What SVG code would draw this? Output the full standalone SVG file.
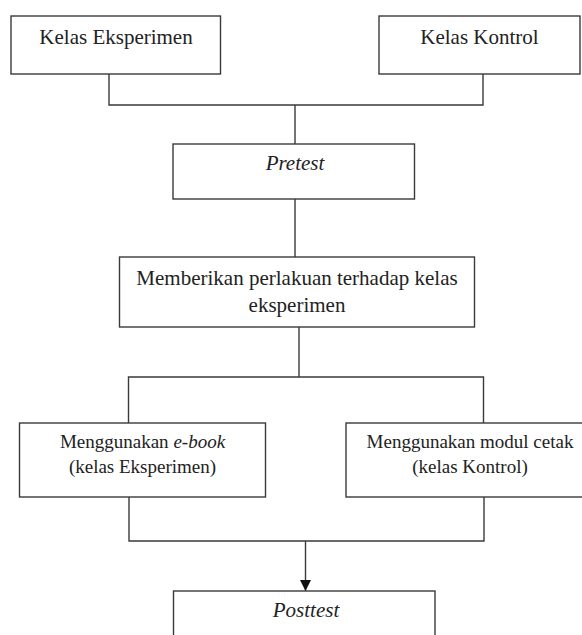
<svg xmlns="http://www.w3.org/2000/svg" width="582" height="635" viewBox="0 0 582 635">
<defs>
<style>
.box{fill:#fff;stroke:#3a3a3a;stroke-width:1.4}
.ln{fill:none;stroke:#3a3a3a;stroke-width:1.4}
.t{font-family:"Liberation Serif","Times New Roman",serif;fill:#222;text-anchor:middle}
.l{font-size:21px}
.s{font-size:19px}
.i{font-style:italic}
</style>
<marker id="arr" viewBox="0 0 10 10" refX="10" refY="5" markerWidth="11" markerHeight="11" markerUnits="userSpaceOnUse" orient="auto">
<path d="M0,0 L10,5 L0,10 z" fill="#111"/>
</marker>
</defs>
<rect width="582" height="635" fill="#fff"/>
<g id="connectors">
<polyline class="ln" points="109,74 109,105 483,105 483,74"/>
<line class="ln" x1="295" y1="105" x2="295" y2="144"/>
<line class="ln" x1="295" y1="199" x2="295" y2="257"/>
<line class="ln" x1="299" y1="327" x2="299" y2="377"/>
<polyline class="ln" points="128.5,423 128.5,377 483.5,377 483.5,423"/>
<polyline class="ln" points="129,497 129,541 484,541 484,497"/>
<line class="ln" x1="305.5" y1="541" x2="305.5" y2="591" stroke="#111" stroke-width="1.8" marker-end="url(#arr)"/>
</g>
<g id="kelas-eksperimen">
<rect class="box" x="11" y="16" width="209.5" height="58"/>
<text class="t l" x="116" y="44">Kelas Eksperimen</text>
</g>
<g id="kelas-kontrol">
<rect class="box" x="379" y="16" width="201" height="58"/>
<text class="t l" x="479.5" y="44">Kelas Kontrol</text>
</g>
<g id="pretest">
<rect class="box" x="173" y="144" width="241.5" height="55"/>
<text class="t l i" x="295" y="170">Pretest</text>
</g>
<g id="perlakuan">
<rect class="box" x="119.5" y="257" width="355" height="70"/>
<text class="t l" x="297" y="285">Memberikan perlakuan terhadap kelas</text>
<text class="t l" x="297" y="312">eksperimen</text>
</g>
<g id="ebook">
<rect class="box" x="19.5" y="423" width="246" height="74"/>
<text class="t s" x="142.5" y="448">Menggunakan <tspan class="i">e-book</tspan></text>
<text class="t s" x="142.5" y="473">(kelas Eksperimen)</text>
</g>
<g id="modul">
<rect class="box" x="346" y="423" width="243" height="74"/>
<text class="t s" x="470" y="448">Menggunakan modul cetak</text>
<text class="t s" x="470" y="473">(kelas Kontrol)</text>
</g>
<g id="posttest">
<rect class="box" x="173.5" y="591" width="261.5" height="60"/>
<text class="t l i" x="306" y="617">Posttest</text>
</g>
</svg>
